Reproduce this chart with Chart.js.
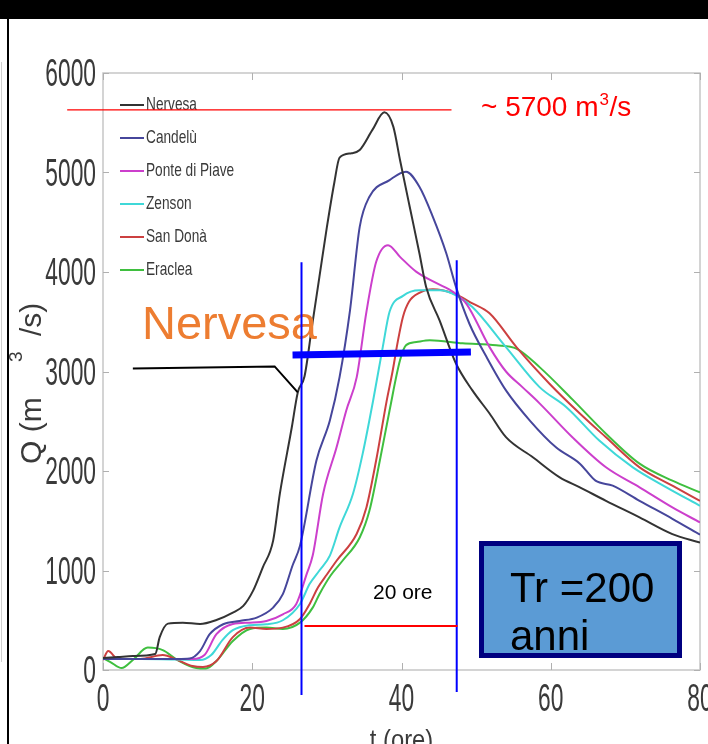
<!DOCTYPE html>
<html>
<head>
<meta charset="utf-8">
<title>Idrogrammi di piena - Tr 200 anni</title>
<script src="https://cdn.jsdelivr.net/npm/chart.js@4.4.1/dist/chart.umd.min.js"></script>
<style>
  html, body { margin: 0; padding: 0; background: #fff; }
  #wrap { width: 708px; height: 744px; }
</style>
</head>
<body>
<div id="wrap"><canvas id="piena" width="708" height="744"></canvas></div>
<script>
// sezioni del Piave (ordine della legenda)
const sezioni = ['Nervesa', 'Candelù', 'Ponte di Piave', 'Zenson', 'San Donà', 'Eraclea'];

// tempo (ore) e portata Q (m3/s), una coppia di liste per sezione
const tNervesa = [0, 2, 4, 7, 7.6, 8.7, 10.7, 13, 15.2, 17.4, 18.8, 20.1, 21.4, 22.8, 23.7, 25.3, 26.1, 27, 28, 29, 30, 31, 31.7, 33.3, 34.4, 36.1, 37.7, 38.9, 39.8, 41.1, 42.4, 43.3, 45.1, 47.3, 49.5, 51.8, 54, 57.6, 61.2, 63.9, 67.4, 71.9, 76.3, 80];
const qNervesa = [120, 130, 140, 160, 330, 466, 476, 463, 503, 577, 644, 795, 1030, 1300, 1772, 2440, 2790, 2950, 3450, 3950, 4450, 4900, 5150, 5193, 5226, 5428, 5605, 5461, 5126, 4655, 4189, 3850, 3514, 3080, 2810, 2578, 2340, 2138, 1936, 1836, 1700, 1534, 1366, 1280];

const tCandelu = [0, 5, 10, 11.6, 13, 14.3, 16.1, 18.3, 20.6, 22.8, 24.1, 25.4, 26.4, 28.6, 30.4, 31.7, 33.1, 34.4, 35.7, 38.4, 40.6, 42.4, 44.2, 46, 47.3, 49.1, 51.4, 54, 57.2, 60.7, 63.9, 66, 68.3, 71.9, 76.3, 80];
const qCandelu = [110, 110, 110, 115, 190, 360, 460, 493, 527, 627, 762, 1050, 1250, 2105, 2507, 2943, 3615, 4454, 4756, 4924, 5008, 4857, 4555, 4189, 3850, 3480, 3145, 2810, 2507, 2238, 2074, 1903, 1853, 1700, 1520, 1360];

const tPonte = [0, 5, 10, 12, 13.6, 15.2, 17.4, 19.7, 21.9, 24.1, 25.9, 27.3, 28.1, 29.5, 31.3, 32.6, 34, 35.3, 36.6, 38.2, 39.8, 42, 44.7, 46.9, 48.7, 51.8, 54, 56.2, 58.5, 62.9, 67.4, 71.9, 76.3, 80];
const qPonte = [110, 110, 110, 110, 150, 360, 463, 476, 493, 560, 664, 966, 1150, 1772, 2238, 2608, 2943, 3600, 4100, 4270, 4152, 4001, 3887, 3800, 3680, 3245, 3000, 2843, 2680, 2339, 2037, 1836, 1634, 1483];

const tZenson = [0, 5, 10, 13, 14.5, 16, 17.4, 19.7, 21.9, 24.1, 26.4, 27.7, 29, 30.4, 31.7, 33.5, 34.8, 36.2, 37.5, 38.4, 40.2, 42.4, 45.1, 47.3, 49.5, 54, 58.5, 62.1, 66.5, 71, 75.5, 80];
const qZenson = [110, 110, 105, 100, 150, 300, 400, 450, 460, 500, 664, 866, 1000, 1150, 1433, 1772, 2175, 2709, 3250, 3600, 3760, 3816, 3816, 3766, 3648, 3245, 2843, 2641, 2306, 2037, 1836, 1650];

const tSanDona = [0, 0.7, 2, 5, 8, 10, 12, 13.4, 15.2, 17.4, 19.7, 21.9, 24.1, 26.4, 27.7, 28.8, 30, 31.3, 34, 35.3, 36.6, 38, 38.8, 39.5, 40.2, 41, 42.4, 44.2, 46.9, 49.5, 51.8, 55.4, 59.8, 63.9, 67.4, 71.9, 76.3, 80];
const qSanDona = [100, 190, 110, 110, 150, 100, 40, 30, 90, 330, 426, 413, 426, 513, 664, 829, 960, 1098, 1370, 1634, 2105, 2700, 3000, 3300, 3550, 3700, 3790, 3826, 3786, 3685, 3585, 3245, 2880, 2578, 2339, 2037, 1853, 1700];

const tEraclea = [0, 1, 2.5, 4, 6, 8, 10, 12.5, 13.8, 15.2, 17.4, 19.7, 21.9, 24.1, 26.4, 28.1, 29, 30.5, 32.1, 34.4, 35.7, 37.1, 38.4, 39.8, 40.6, 42, 43.8, 48.2, 52.7, 55.4, 58.5, 62.9, 67.4, 71.9, 76.3, 80];
const qEraclea = [120, 80, 20, 100, 225, 200, 100, 20, 15, 90, 292, 413, 426, 413, 476, 627, 762, 950, 1098, 1332, 1600, 2105, 2608, 3112, 3263, 3296, 3313, 3283, 3263, 3230, 3044, 2720, 2375, 2074, 1903, 1785];

// assi
const xTicks = [0, 20, 40, 60, 80];
const yTicks = [0, 1000, 2000, 3000, 4000, 5000, 6000];

const serie = [
  [tNervesa, qNervesa], [tCandelu, qCandelu], [tPonte, qPonte],
  [tZenson, qZenson], [tSanDona, qSanDona], [tEraclea, qEraclea]
];
const colori = ['#333333', '#46469b', '#cc3fcc', '#3fd8d8', '#cc4040', '#3fbf3f'];

const FONT = "'Liberation Sans', Arial, sans-serif";

// testo schiacciato orizzontalmente (i numeri degli assi sono molto stretti)
function squeezed(ctx, text, x, y, sx, align) {
  ctx.save();
  ctx.translate(x, y);
  ctx.scale(sx, 1);
  ctx.textAlign = align;
  ctx.fillText(text, 0, 0);
  ctx.restore();
}

function seg(ctx, x1, y1, x2, y2) {
  ctx.beginPath();
  ctx.moveTo(x1, y1);
  ctx.lineTo(x2, y2);
  ctx.stroke();
}

const axesPlugin = {
  id: 'assi',
  beforeDraw(chart) {
    const { ctx, width, height } = chart;
    ctx.save();
    ctx.fillStyle = '#fff';
    ctx.fillRect(0, 0, width, height);
    ctx.restore();
  },
  beforeDatasetsDraw(chart) {
    const { ctx, chartArea: a, scales: { x, y } } = chart;
    ctx.save();
    // riquadro stile matlab
    ctx.strokeStyle = '#c6c6c6';
    ctx.lineWidth = 1.5;
    ctx.strokeRect(a.left, a.top, a.right - a.left, a.bottom - a.top);
    ctx.strokeStyle = '#b0b0b0';
    ctx.lineWidth = 1;
    xTicks.forEach(v => {
      const px = Math.round(x.getPixelForValue(v)) + 0.5;
      seg(ctx, px, a.bottom, px, a.bottom - 7);
      seg(ctx, px, a.top, px, a.top + 7);
    });
    yTicks.forEach(v => {
      const py = Math.round(y.getPixelForValue(v)) + 0.5;
      seg(ctx, a.left, py, a.left + 6, py);
      seg(ctx, a.right, py, a.right - 6, py);
    });
    // etichette dei tick
    ctx.fillStyle = '#3a3a3a';
    ctx.font = '38px ' + FONT;
    ctx.textBaseline = 'alphabetic';
    yTicks.forEach(v => {
      squeezed(ctx, String(v), a.left - 7, y.getPixelForValue(v) + 13, 0.6, 'right');
    });
    xTicks.forEach(v => {
      squeezed(ctx, String(v), x.getPixelForValue(v), 711, 0.6, 'center');
    });
    // titoli assi
    ctx.font = '28px ' + FONT;
    squeezed(ctx, 't (ore)', x.getPixelForValue(40), 749, 0.85, 'center');
    ctx.save();
    ctx.translate(41, 380);
    ctx.rotate(-Math.PI / 2);
    ctx.textAlign = 'left';
    ctx.font = '30px ' + FONT;
    ctx.fillText('Q (m', -84, 0);
    ctx.font = '19px ' + FONT;
    ctx.fillText('3', 18, -19);
    ctx.font = '30px ' + FONT;
    ctx.fillText('/s)', 44, 0);
    ctx.restore();
    ctx.restore();
  },
  afterDatasetsDraw(chart) {
    // legenda dentro il riquadro
    const { ctx } = chart;
    ctx.save();
    ctx.font = '19px ' + FONT;
    ctx.textBaseline = 'middle';
    chart.data.datasets.forEach((ds, i) => {
      const yy = 105 + 33 * i;
      ctx.strokeStyle = ds.borderColor;
      ctx.lineWidth = 2;
      seg(ctx, 120, yy, 144, yy);
      ctx.fillStyle = '#3a3a3a';
      squeezed(ctx, ds.label, 146, yy, 0.72, 'left');
    });
    ctx.restore();
  },
  afterDraw(chart) {
    const { ctx, scales: { x, y } } = chart;
    const X = v => x.getPixelForValue(v);
    const Y = v => y.getPixelForValue(v);
    ctx.save();

    // picco ~5700
    ctx.strokeStyle = '#ff0000';
    ctx.lineWidth = 1.2;
    seg(ctx, X(-4.8), Y(5630), X(46.7), Y(5630));
    ctx.fillStyle = '#ff0000';
    ctx.font = '28px ' + FONT;
    ctx.textAlign = 'left';
    ctx.textBaseline = 'alphabetic';
    ctx.fillText('~ 5700 m', 481, 116);
    const w1 = ctx.measureText('~ 5700 m').width;
    ctx.font = '17px ' + FONT;
    ctx.fillText('3', 481 + w1 + 1, 105);
    ctx.font = '28px ' + FONT;
    ctx.fillText('/s', 481 + w1 + 11, 116);

    // etichetta Nervesa e freccia
    ctx.fillStyle = '#ed7d31';
    ctx.font = '47px ' + FONT;
    ctx.fillText('Nervesa', 142, 339);
    ctx.strokeStyle = '#000';
    ctx.lineWidth = 2;
    ctx.beginPath();
    ctx.moveTo(X(4), Y(3031));
    ctx.lineTo(X(23), Y(3051));
    ctx.lineTo(X(26.1), Y(2790));
    ctx.stroke();

    // linea spessa blu
    ctx.strokeStyle = '#0000ff';
    ctx.lineWidth = 7;
    seg(ctx, X(25.4), Y(3165), X(49.3), Y(3195));

    // verticali blu (sfasamento 20 ore)
    ctx.lineWidth = 2;
    seg(ctx, X(26.6), Y(4098), X(26.6), Y(-250));
    seg(ctx, X(47.4), Y(4118), X(47.4), Y(-220));
    ctx.strokeStyle = '#ff0000';
    ctx.lineWidth = 2;
    seg(ctx, X(27), Y(443), X(47.5), Y(443));
    ctx.fillStyle = '#000';
    ctx.font = '21px ' + FONT;
    ctx.fillText('20 ore', 373, 599);

    // riquadro Tr
    ctx.fillStyle = '#5b9bd5';
    ctx.fillRect(479, 541, 203, 117);
    ctx.strokeStyle = '#000080';
    ctx.lineWidth = 5;
    ctx.strokeRect(481.5, 543.5, 198, 112);
    ctx.fillStyle = '#000';
    ctx.font = '42px ' + FONT;
    ctx.fillText('Tr =200', 510, 602);
    ctx.fillText('anni', 510, 650);

    // bordi della slide
    ctx.fillStyle = '#000';
    ctx.fillRect(0, 0, 708, 19);
    ctx.fillRect(7, 0, 2, 744);
    ctx.strokeStyle = '#cfcfcf';
    ctx.lineWidth = 1;
    seg(ctx, 1.5, 62, 1.5, 662);
    ctx.restore();
  }
};

const ctx = document.getElementById('piena').getContext('2d');
new Chart(ctx, {
  type: 'line',
  data: {
    datasets: serie.map(([t, q], i) => ({
      label: sezioni[i],
      data: t.map((v, k) => ({ x: v, y: q[k] })),
      borderColor: colori[i],
      borderWidth: 2,
      pointRadius: 0,
      fill: false,
      cubicInterpolationMode: 'monotone'
    }))
  },
  options: {
    responsive: false,
    animation: false,
    devicePixelRatio: 1,
    layout: { padding: { top: 73, right: 8, bottom: 0, left: 0 } },
    plugins: { legend: { display: false }, tooltip: { enabled: false } },
    scales: {
      x: {
        type: 'linear', min: 0, max: 80,
        ticks: { display: false, stepSize: 20 },
        grid: { display: false, drawTicks: false },
        border: { display: false },
        afterFit(s) { s.height = 74; s.paddingLeft = 0; s.paddingRight = 0; }
      },
      y: {
        min: 0, max: 6000,
        ticks: { display: false, stepSize: 1000 },
        grid: { display: false, drawTicks: false },
        border: { display: false },
        afterFit(s) { s.width = 103; s.paddingTop = 0; s.paddingBottom = 0; }
      }
    }
  },
  plugins: [axesPlugin]
});
</script>
</body>
</html>
